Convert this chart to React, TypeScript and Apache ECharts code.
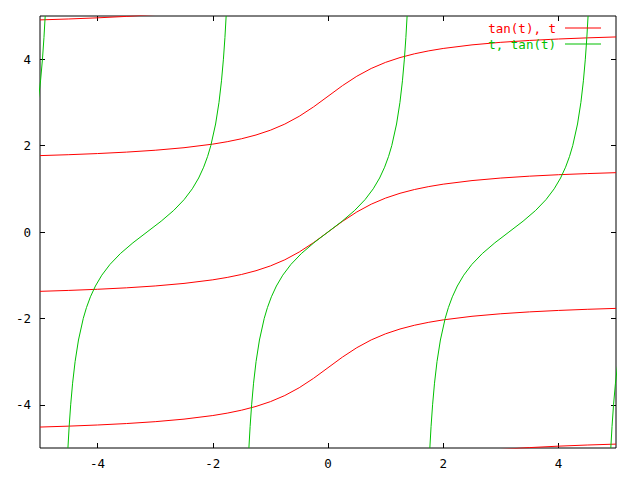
import React, { useEffect, useRef } from "react";
import * as echarts from "echarts";

// Curve points (x, y)
const RED_MID = [[-5,-1.3734],[-4.5,-1.3521],[-4,-1.3258],[-3.5,-1.2925],[-3,-1.2490],[-2.5,-1.1903],[-2,-1.1071],[-1.75,-1.0517],[-1.5,-0.9828],[-1.25,-0.8961],[-1,-0.7854],[-0.75,-0.6435],[-0.5,-0.4636],[-0.25,-0.2450],[0,0],[0.25,0.2450],[0.5,0.4636],[0.75,0.6435],[1,0.7854],[1.25,0.8961],[1.5,0.9828],[1.75,1.0517],[2,1.1071],[2.5,1.1903],[3,1.2490],[3.5,1.2925],[4,1.3258],[4.5,1.3521],[5,1.3734]];
const RED_UP = [[-5,1.7682],[-4.5,1.7895],[-4,1.8158],[-3.5,1.8491],[-3,1.8926],[-2.5,1.9513],[-2,2.0345],[-1.75,2.0899],[-1.5,2.1588],[-1.25,2.2455],[-1,2.3562],[-0.75,2.4981],[-0.5,2.6780],[-0.25,2.8966],[0,3.1416],[0.25,3.3866],[0.5,3.6052],[0.75,3.7851],[1,3.9270],[1.25,4.0377],[1.5,4.1244],[1.75,4.1933],[2,4.2487],[2.5,4.3319],[3,4.3906],[3.5,4.4341],[4,4.4674],[4.5,4.4937],[5,4.5150]];
const RED_DOWN = [[-5,-4.5150],[-4.5,-4.4937],[-4,-4.4674],[-3.5,-4.4341],[-3,-4.3906],[-2.5,-4.3319],[-2,-4.2487],[-1.75,-4.1933],[-1.5,-4.1244],[-1.25,-4.0377],[-1,-3.9270],[-0.75,-3.7851],[-0.5,-3.6052],[-0.25,-3.3866],[0,-3.1416],[0.25,-2.8966],[0.5,-2.6780],[0.75,-2.4981],[1,-2.3562],[1.25,-2.2455],[1.5,-2.1588],[1.75,-2.0899],[2,-2.0345],[2.5,-1.9513],[3,-1.8926],[3.5,-1.8491],[4,-1.8158],[4.5,-1.7895],[5,-1.7682]];
const RED_TOP = [[-5,4.9098],[-4.5,4.9311],[-4,4.9574],[-3.5,4.9907],[-3,5.0342]];
const RED_BOTTOM = [[3,-5.0342],[3.5,-4.9907],[4,-4.9574],[4.5,-4.9311],[5,-4.9098]];

const GREEN_MID = [[-1.3734,-5],[-1.3521,-4.5],[-1.3258,-4],[-1.2925,-3.5],[-1.2490,-3],[-1.1903,-2.5],[-1.1071,-2],[-1.0517,-1.75],[-0.9828,-1.5],[-0.8961,-1.25],[-0.7854,-1],[-0.6435,-0.75],[-0.4636,-0.5],[-0.2450,-0.25],[0,0],[0.2450,0.25],[0.4636,0.5],[0.6435,0.75],[0.7854,1],[0.8961,1.25],[0.9828,1.5],[1.0517,1.75],[1.1071,2],[1.1903,2.5],[1.2490,3],[1.2925,3.5],[1.3258,4],[1.3521,4.5],[1.3734,5]];
const GREEN_RIGHT = [[1.7682,-5],[1.7895,-4.5],[1.8158,-4],[1.8491,-3.5],[1.8926,-3],[1.9513,-2.5],[2.0345,-2],[2.0899,-1.75],[2.1588,-1.5],[2.2455,-1.25],[2.3562,-1],[2.4981,-0.75],[2.6780,-0.5],[2.8966,-0.25],[3.1416,0],[3.3866,0.25],[3.6052,0.5],[3.7851,0.75],[3.9270,1],[4.0377,1.25],[4.1244,1.5],[4.1933,1.75],[4.2487,2],[4.3319,2.5],[4.3906,3],[4.4341,3.5],[4.4674,4],[4.4937,4.5],[4.5150,5]];
const GREEN_LEFT = [[-4.5150,-5],[-4.4937,-4.5],[-4.4674,-4],[-4.4341,-3.5],[-4.3906,-3],[-4.3319,-2.5],[-4.2487,-2],[-4.1933,-1.75],[-4.1244,-1.5],[-4.0377,-1.25],[-3.9270,-1],[-3.7851,-0.75],[-3.6052,-0.5],[-3.3866,-0.25],[-3.1416,0],[-2.8966,0.25],[-2.6780,0.5],[-2.4981,0.75],[-2.3562,1],[-2.2455,1.25],[-2.1588,1.5],[-2.0899,1.75],[-2.0345,2],[-1.9513,2.5],[-1.8926,3],[-1.8491,3.5],[-1.8158,4],[-1.7895,4.5],[-1.7682,5]];
const GREEN_EDGE_LEFT = [[-5.0342,3],[-4.9907,3.5],[-4.9574,4],[-4.9311,4.5],[-4.9098,5]];
const GREEN_EDGE_RIGHT = [[4.9098,-5],[4.9311,-4.5],[4.9574,-4],[4.9907,-3.5],[5.0342,-3]];

const X_TICKS = [-4, -2, 0, 2, 4];
const Y_TICKS = [-4, -2, 0, 2, 4];
const RED_NAME = "tan(t), t";
const GREEN_NAME = "t, tan(t)";

const FONT = "DejaVu Sans Mono";

export default function App() {
  const ref = useRef<HTMLDivElement>(null);
  useEffect(() => {
    const chart = echarts.init(ref.current!, null, { renderer: "svg" });
    // Visible axes: ticks sit on the zero of a hidden helper axis whose zero is at a grid edge
    const mkAxis = (pos: string, ticks: number[], labels: boolean, zeroIdx: number) => ({
      type: "value",
      position: pos,
      min: -5,
      max: 5,
      axisLine: { show: false, onZero: true, onZeroAxisIndex: zeroIdx },
      splitLine: { show: false },
      axisTick: {
        show: true,
        inside: true,
        length: 5,
        customValues: ticks,
        lineStyle: { color: "#000", width: 1 },
      },
      axisLabel: {
        show: labels,
        customValues: ticks,
        color: "#000",
        fontFamily: FONT,
        fontSize: 12.5,
        margin: 9,
      },
    });
    const helper = (lo: number, hi: number) => ({
      type: "value",
      show: false,
      min: lo,
      max: hi,
      splitLine: { show: false },
    });
    const line = (name: string, color: string, data: number[][]) => ({
      type: "line",
      name,
      data,
      showSymbol: false,
      symbol: "none",
      clip: true,
      lineStyle: { color, width: 1 },
      itemStyle: { color },
      emphasis: { disabled: true },
      silent: true,
    });
    const RED = "#ff0000";
    const GREEN = "#00c000";
    chart.setOption({
      animation: false,
      backgroundColor: "#fff",
      grid: {
        left: 40,
        right: 24,
        top: 16,
        bottom: 32,
        show: true,
        borderColor: "#000",
        borderWidth: 1,
        backgroundColor: "transparent",
      },
      legend: {
        orient: "vertical",
        right: 34,
        top: 15,
        align: "right",
        itemGap: 0,
        itemWidth: 36,
        itemHeight: 1,
        icon: "rect",
        selectedMode: false,
        textStyle: { fontFamily: FONT, fontSize: 12.5, lineHeight: 16, padding: [0, 4, 0, 0] },
        data: [
          { name: RED_NAME, textStyle: { color: RED } },
          { name: GREEN_NAME, textStyle: { color: GREEN } },
        ],
      },
      xAxis: [
        mkAxis("bottom", X_TICKS, true, 2),
        mkAxis("top", X_TICKS, false, 3),
        helper(0, 1),
        helper(-1, 0),
      ],
      yAxis: [
        mkAxis("left", Y_TICKS, true, 2),
        mkAxis("right", Y_TICKS, false, 3),
        helper(0, 1),
        helper(-1, 0),
      ],
      series: [
        line(RED_NAME, RED, RED_MID),
        line(RED_NAME, RED, RED_UP),
        line(RED_NAME, RED, RED_DOWN),
        line(RED_NAME, RED, RED_TOP),
        line(RED_NAME, RED, RED_BOTTOM),
        line(GREEN_NAME, GREEN, GREEN_MID),
        line(GREEN_NAME, GREEN, GREEN_RIGHT),
        line(GREEN_NAME, GREEN, GREEN_LEFT),
        line(GREEN_NAME, GREEN, GREEN_EDGE_LEFT),
        line(GREEN_NAME, GREEN, GREEN_EDGE_RIGHT),
      ],
    });
    return () => chart.dispose();
  }, []);
  return <div ref={ref} style={{ width: 640, height: 480, margin: -8 }} />;
}
